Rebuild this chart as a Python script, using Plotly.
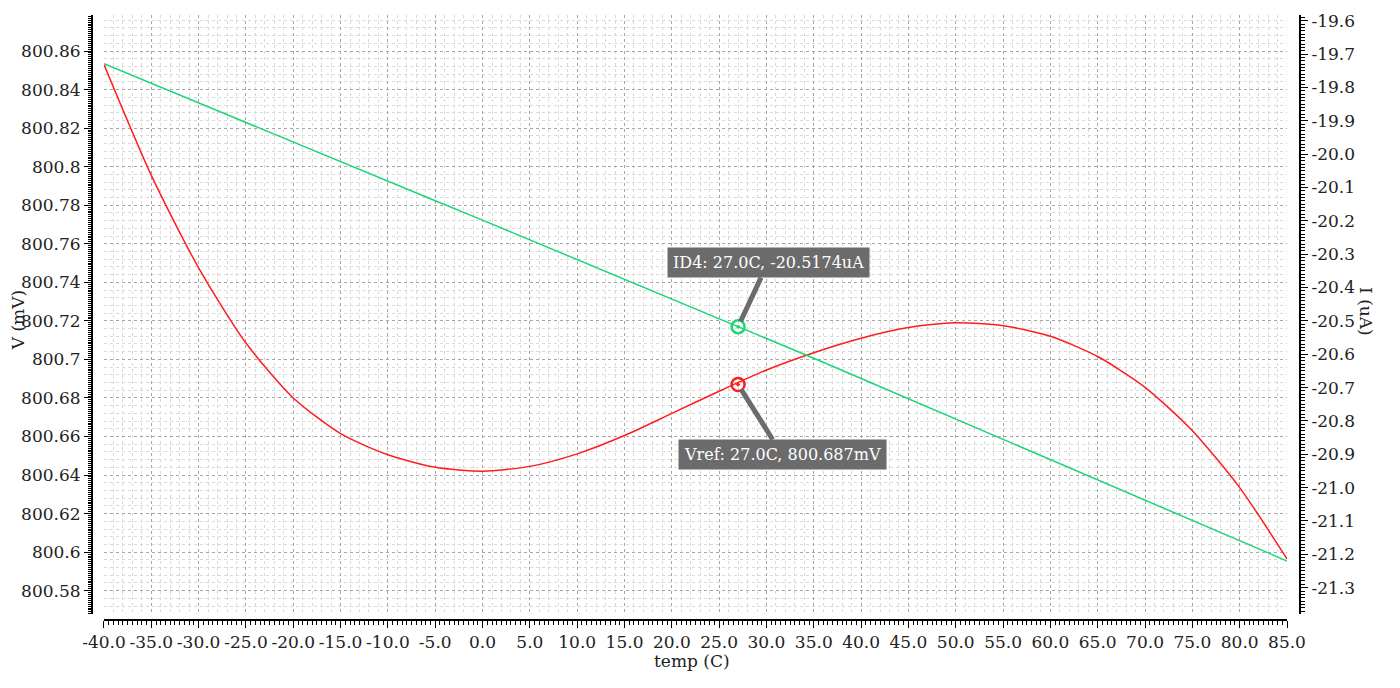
import plotly.graph_objects as go

# sweep of temperature (C), values
temp = [-40, -35, -30, -25, -20, -15, -10, -5, 0, 5, 10, 15, 20,
        25, 30, 35, 40, 45, 50, 55, 60, 65, 70, 75, 80, 85]
vref_mv = [800.853, 800.7955, 800.7475, 800.7085, 800.680, 800.6615, 800.6505,
           800.644, 800.642, 800.6445, 800.651, 800.6605, 800.672, 800.6835,
           800.6945, 800.7035, 800.711, 800.7165, 800.719, 800.7175, 800.712,
           800.7015, 800.6855, 800.663, 800.6335, 800.5965]
id4_ua = [-19.729, -19.788, -19.846, -19.905, -19.964, -20.022, -20.081,
          -20.140, -20.198, -20.257, -20.316, -20.375, -20.433, -20.492,
          -20.551, -20.612, -20.673, -20.734, -20.795, -20.856, -20.916,
          -20.977, -21.038, -21.099, -21.159, -21.220]

# tick labels (plain hyphen minus, like the viewer)
temp_ticks = temp
temp_labels = ["-40.0", "-35.0", "-30.0", "-25.0", "-20.0", "-15.0", "-10.0",
               "-5.0", "0.0", "5.0", "10.0", "15.0", "20.0", "25.0", "30.0",
               "35.0", "40.0", "45.0", "50.0", "55.0", "60.0", "65.0", "70.0",
               "75.0", "80.0", "85.0"]
i_ticks = [-19.6, -19.7, -19.8, -19.9, -20.0, -20.1, -20.2, -20.3, -20.4,
           -20.5, -20.6, -20.7, -20.8, -20.9, -21.0, -21.1, -21.2, -21.3]
i_labels = ["-19.6", "-19.7", "-19.8", "-19.9", "-20.0", "-20.1", "-20.2",
            "-20.3", "-20.4", "-20.5", "-20.6", "-20.7", "-20.8", "-20.9",
            "-21.0", "-21.1", "-21.2", "-21.3"]

# cursor readout
cursor_temp = 27.0
cursor_vref = 800.687
cursor_id4 = -20.5174

RED = "rgb(255,28,28)"
GREEN = "rgb(28,214,120)"
FONT = "DejaVu Serif"
MAJOR_GRID = "#a6a6a6"
MINOR_GRID = "#d9d9d9"

x_range = [-40, 85]
v_range = [800.5679, 800.8787]
i_range = [-21.379, -19.5829]
x_dom = [0.00993, 0.98924]
y_dom = [0.0099, 1.0]

fig = go.Figure()
fig.add_trace(go.Scatter(x=temp, y=vref_mv, mode="lines", name="Vref",
                         line=dict(color=RED, width=1.5, shape="spline", smoothing=0.7),
                         hoverinfo="skip"))
fig.add_trace(go.Scatter(x=temp, y=id4_ua, mode="lines", name="ID4", yaxis="y2",
                         line=dict(color=GREEN, width=1.5), hoverinfo="skip"))
# invisible trace, only there so the overlay axes (extra minor ticks) get drawn
fig.add_trace(go.Scatter(x=temp, y=vref_mv, mode="lines", xaxis="x2", yaxis="y3",
                         line=dict(color="rgba(0,0,0,0)"), hoverinfo="skip"))
fig.add_trace(go.Scatter(x=[cursor_temp], y=[cursor_vref], mode="markers",
                         marker=dict(symbol="circle-open-dot", size=13, color=RED,
                                     line=dict(width=2.5, color=RED)), hoverinfo="skip"))
fig.add_trace(go.Scatter(x=[cursor_temp], y=[cursor_id4], mode="markers", yaxis="y2",
                         marker=dict(symbol="circle-open-dot", size=13, color=GREEN,
                                     line=dict(width=2.5, color=GREEN)), hoverinfo="skip"))

axis_common = dict(showline=True, linecolor="black", linewidth=2, ticks="outside",
                   tickcolor="black", zeroline=False, automargin=False,
                   tickfont=dict(family=FONT, size=17, color="#222222"))

# the page body adds 8px on the left/top, so the margins are shifted by that
fig.update_layout(
    width=1400, height=688, showlegend=False, template="none",
    paper_bgcolor="white", plot_bgcolor="white",
    margin=dict(l=84, r=108, t=7, b=76),
    font=dict(family=FONT, size=17, color="#222222"),
    xaxis=dict(axis_common, domain=x_dom, anchor="free", position=0, range=x_range,
               tickmode="array", tickvals=temp_ticks, ticktext=temp_labels,
               tickangle=0, ticklen=7,
               showgrid=True, gridcolor=MAJOR_GRID, griddash="dot", gridwidth=1,
               minor=dict(dtick=1, tick0=0, showgrid=True, gridcolor=MINOR_GRID,
                          griddash="dot", ticks="")),
    xaxis2=dict(overlaying="x", domain=x_dom, anchor="free", position=0, range=x_range,
                showgrid=False, showline=False, showticklabels=False, zeroline=False,
                automargin=False, ticks="outside", tick0=0, dtick=0.5, ticklen=4,
                tickcolor="black"),
    yaxis=dict(axis_common, domain=y_dom, anchor="free", position=0, range=v_range,
               tick0=800, dtick=0.02, ticklen=7,
               showgrid=True, gridcolor=MAJOR_GRID, griddash="dot", gridwidth=1,
               minor=dict(dtick=0.004, tick0=800, showgrid=True, gridcolor=MINOR_GRID,
                          griddash="dot", ticks="")),
    yaxis3=dict(overlaying="y", domain=y_dom, anchor="free", position=0, range=v_range,
                showgrid=False, showline=False, showticklabels=False, zeroline=False,
                automargin=False, ticks="outside", tick0=800, dtick=0.001, ticklen=4,
                tickcolor="black"),
    yaxis2=dict(axis_common, overlaying="y", side="right", domain=y_dom, anchor="free",
                position=1, range=i_range, tickmode="array", tickvals=i_ticks,
                ticktext=i_labels, ticklen=7, showgrid=False,
                minor=dict(dtick=0.01, tick0=0, ticks="outside", ticklen=4,
                           tickcolor="black", showgrid=False)),
)

label_box = dict(bgcolor="#6b6b6b", font=dict(family=FONT, size=16, color="white"),
                 borderpad=5, showarrow=True, arrowhead=0, arrowwidth=5,
                 arrowcolor="#6b6b6b", standoff=6)
fig.add_annotation(label_box, x=cursor_temp, y=cursor_id4, xref="x", yref="y2",
                   text="ID4: %.1fC, %.4fuA" % (cursor_temp, cursor_id4), ax=30, ay=-64)
fig.add_annotation(label_box, x=cursor_temp, y=cursor_vref, xref="x", yref="y",
                   text="Vref: %.1fC, %.3fmV" % (cursor_temp, cursor_vref), ax=44, ay=70)

# axis titles
title_font = dict(family=FONT, size=17, color="#222222")
fig.add_annotation(text="V (mV)", xref="paper", yref="paper", x=-0.061, y=0.496,
                   xanchor="center", yanchor="middle", showarrow=False,
                   textangle=-90, font=title_font)
fig.add_annotation(text="I (uA)", xref="paper", yref="paper", x=1.0546, y=0.509,
                   xanchor="center", yanchor="middle", showarrow=False,
                   textangle=90, font=title_font)
fig.add_annotation(text="temp (C)", xref="paper", yref="paper", x=0.4967, y=-0.0678,
                   xanchor="center", yanchor="middle", showarrow=False,
                   font=title_font)

fig.write_html("out.html")
